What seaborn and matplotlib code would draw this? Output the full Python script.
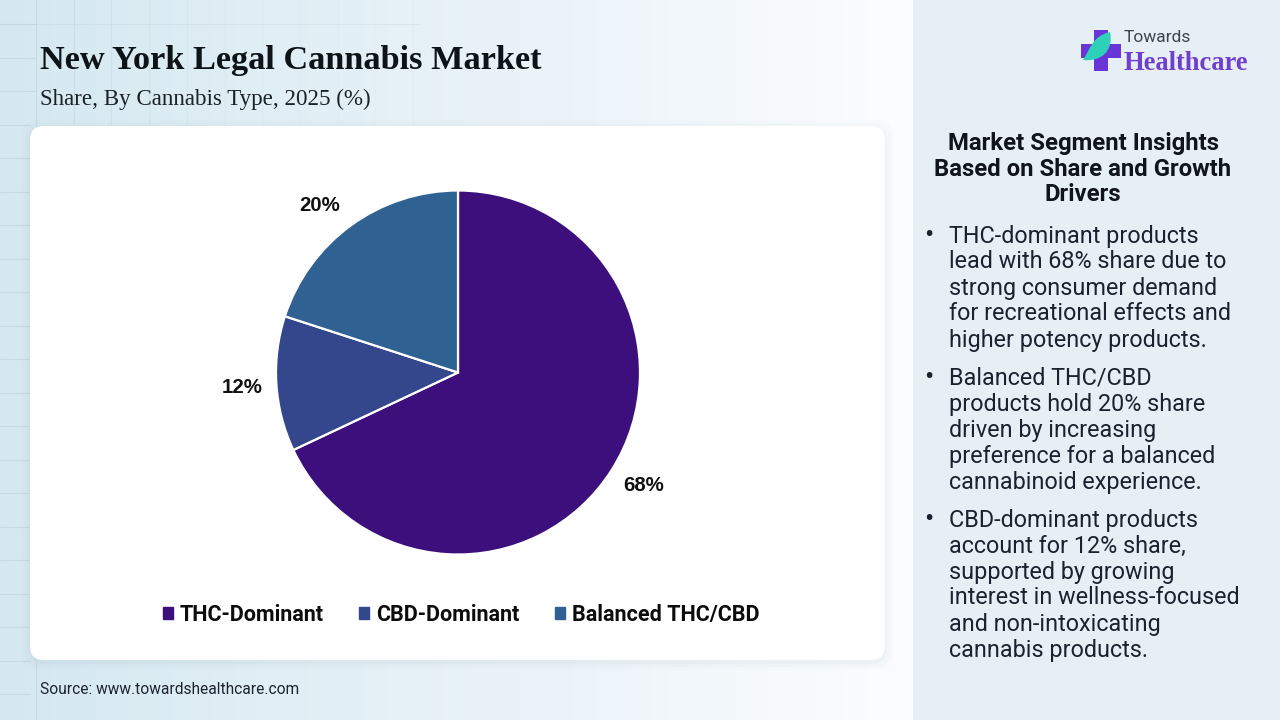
import numpy as np
import matplotlib
matplotlib.use("Agg")
import matplotlib.pyplot as plt
from matplotlib.patches import FancyBboxPatch, Rectangle, PathPatch
from matplotlib.path import Path
import seaborn as sns

# data
categories = ["THC-Dominant", "CBD-Dominant", "Balanced THC/CBD"]
shares = [68, 12, 20]
share_labels = ["68%", "12%", "20%"]
colors = ["#3c0f7d", "#35478c", "#2f6193"]

title = "New York Legal Cannabis Market"
subtitle = "Share, By Cannabis Type, 2025 (%)"
source = "Source: www.towardshealthcare.com"
panel_title = "Market Segment Insights\nBased on Share and Growth\nDrivers"
bullets = [
    ["THC-dominant products", "lead with 68% share due to", "strong consumer demand",
     "for recreational effects and", "higher potency products."],
    ["Balanced THC/CBD", "products hold 20% share", "driven by increasing",
     "preference for a balanced", "cannabinoid experience."],
    ["CBD-dominant products", "account for 12% share,", "supported by growing",
     "interest in wellness-focused", "and non-intoxicating", "cannabis products."],
]
bullet_tops = [234, 376, 518]

sns.set_theme(style="white")
plt.rcParams["font.family"] = ["Roboto", "DejaVu Sans"]

W, H = 1280, 720
fig = plt.figure(figsize=(12.8, 7.2), dpi=100)

# page in pixel coords
bg = fig.add_axes([0, 0, 1, 1])
bg.set_xlim(0, W)
bg.set_ylim(H, 0)
bg.axis("off")

# background wash, blue on the left going almost white by the panel
xx, yy = np.meshgrid(np.linspace(0, 913 / W, 256), np.linspace(0, 1, 144))
stops_x = [0, 0.2, 0.45, 0.6, 0.72]
stops_c = np.array([[213, 232, 240], [224, 238, 245], [236, 244, 250], [246, 250, 252], [252, 253, 254]]) / 255
wash = np.dstack([np.interp(xx, stops_x, stops_c[:, i]) for i in range(3)])
bg.imshow(wash, extent=[0, 913, H, 0], aspect="auto", zorder=0)

# faint grid top left
for x in np.arange(36, 420, 37.7):
    bg.plot([x, x], [0, 126], color="#bccdd8", lw=0.8, alpha=max(0.06, 0.55 - x / 500), zorder=1)
bg.plot([36, 36], [660, 720], color="#bccdd8", lw=0.8, alpha=0.5, zorder=1)
for y in np.arange(24, 720, 33.5):
    bg.plot([0, 30 if y > 120 else 36], [y, y], color="#bccdd8", lw=0.8, alpha=0.5, zorder=1)
bg.plot([0, 420], [24, 24], color="#bccdd8", lw=0.8, alpha=0.3, zorder=1)

# right panel
bg.add_patch(Rectangle((913, 0), W - 913, H, color="#e7eff6", lw=0, zorder=2))

# card with soft shadow
for grow, a in [(8, 0.02), (5, 0.03), (2, 0.05)]:
    bg.add_patch(FancyBboxPatch((30 - grow, 126 - grow + 2), 855 + 2 * grow, 534 + 2 * grow,
                                boxstyle="round,pad=0,rounding_size=16", fc="#8fa3b3", ec="none",
                                alpha=a, zorder=3))
bg.add_patch(FancyBboxPatch((30, 126), 855, 534, boxstyle="round,pad=0,rounding_size=14",
                            fc="white", ec="none", zorder=4))

# header
bg.text(40, 61, title, family="Liberation Serif", weight="bold", fontsize=24.7,
        color="#0c1418", va="center", zorder=5)
bg.text(40, 99, subtitle, family="Liberation Serif", fontsize=16.6, color="#1a2226",
        va="center", zorder=5)
bg.text(40, 690, source, fontsize=11.2, color="#1c2430", va="center", zorder=5)

# logo
bg.add_patch(Rectangle((1094, 30), 14, 41, color="#6a35d8", lw=0, zorder=5))
bg.add_patch(Rectangle((1081, 44), 40, 14, color="#6a35d8", lw=0, zorder=5))
leaf = Path([(1110, 32), (1092, 36), (1090, 50), (1083, 60), (1100, 62), (1114, 52), (1110, 32)],
            [Path.MOVETO, Path.CURVE4, Path.CURVE4, Path.CURVE4, Path.CURVE4, Path.CURVE4, Path.CURVE4])
bg.add_patch(PathPatch(leaf, fc="#2fd0b8", ec="none", zorder=6))
bg.text(1124, 37, "Towards", fontsize=12.5, color="#3d4450", va="center", zorder=5)
bg.text(1124, 63, "Healthcare", family="Liberation Serif", weight="bold", fontsize=19.1,
        color="#7040cc", va="center", zorder=5)

# side panel text
bg.text(1083, 169, panel_title, fontsize=17.2, weight="bold", color="#10151c", ha="center",
        va="center", linespacing=1.14, zorder=5)
line_h = 26
for top, lines in zip(bullet_tops, bullets):
    bg.text(929, top + 2, "•", fontsize=20, color="#1a2230", ha="center", va="center", zorder=5)
    for i, line in enumerate(lines):
        bg.text(949, top + 2 + i * line_h, line, fontsize=16.8, color="#1a2230", va="center", zorder=5)

# pie: centre (458, 372), radius 182
r = 182
ax = fig.add_axes([(458 - r) / W, 1 - (372.5 + r) / H, 2 * r / W, 2 * r / H], zorder=5)
wedges, _ = ax.pie(shares, colors=colors, startangle=90, counterclock=False, radius=1,
                   wedgeprops={"edgecolor": "white", "linewidth": 1.6})
ax.set_xlim(-1, 1)
ax.set_ylim(-1, 1)
ax.set_aspect("equal")

# share labels outside the slices, nudged off the plain mid-angle spot
nudges = [(0.043, 0.0), (-0.029, -0.009), (-0.076, -0.021)]
angle = 90
for val, lab, (dx, dy) in zip(shares, share_labels, nudges):
    mid = np.deg2rad(angle - val * 3.6 / 2)
    angle -= val * 3.6
    ax.text(1.16 * np.cos(mid) + dx, 1.16 * np.sin(mid) + dy, lab, fontsize=14.7, weight="bold",
            family="Liberation Sans", color="#111111", ha="center", va="center", clip_on=False)

# legend
handles = [Rectangle((0, 0), 1, 1, color=c) for c in colors]
leg = fig.legend(handles, categories, loc="center", bbox_to_anchor=(461 / W, 1 - 615 / H), ncol=3,
                 frameon=False, handlelength=0.46, handleheight=0.46, handletextpad=0.32,
                 columnspacing=1.65, prop={"family": "Roboto", "weight": "bold", "size": 15.5})
for t in leg.get_texts():
    t.set_color("#0c0c0c")

fig.savefig("out.png", dpi=100)
